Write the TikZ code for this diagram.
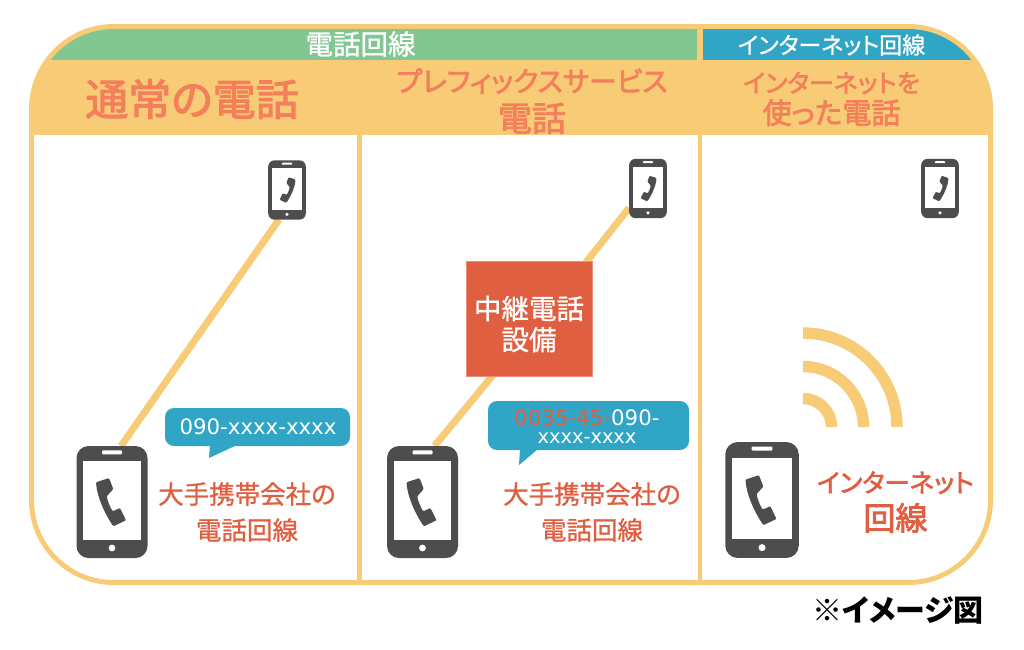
\documentclass[tikz,border=0pt]{standalone}
\usepackage{fontspec}
\setmainfont{Noto Sans CJK JP}[RawFeature=+palt]
\newfontfamily\medf{Noto Sans CJK JP}[RawFeature=+palt,FakeBold=2.5]
\newfontfamily\semif{Noto Sans CJK JP}[RawFeature=+palt,FakeBold=1]
\newfontfamily\latinf{DejaVu Sans}
\definecolor{frameY}{HTML}{F8CB76}
\definecolor{greenB}{HTML}{82C791}
\definecolor{blueB}{HTML}{31A5C5}
\definecolor{redT}{HTML}{E05F40}
\definecolor{titleT}{HTML}{F47F5B}
\definecolor{darkP}{HTML}{4D4D4D}
\newcommand{\fsz}[2]{\fontsize{#1}{#2}\selectfont}
% centre x, centre y, scale, handset mirror (1 or -1)
\newcommand{\phoneglyph}[4]{%
\begin{scope}[shift={(#1,#2)},scale=#3]
  \pgfmathsetmacro{\rr}{12*#3}
  \fill[darkP,rounded corners=\rr pt] (-35.5,-56) rectangle (35.5,56);
  \fill[white] (-28.7,-40.7) rectangle (28.7,37.7);
  \fill[white,rounded corners=1pt] (-10,-51.7) rectangle (10,-47.7);
  \fill[white] (0,46) circle (3.4);
  \begin{scope}[xscale=#4]
  \fill[darkP,rounded corners=1pt] (-16,-19.7) .. controls (-15,-5) and (-7,12) .. (1.3,24.3) -- (14,18.3) -- (8,6) -- (0.7,9.3) .. controls (-2,5) and (-4,0) .. (-5.3,-5.7) -- (1.3,-13) -- (-3,-24) -- cycle;
  \end{scope}
\end{scope}}
\tikzset{
  x=1pt,y=-1pt,
  phonebox/.style={inner sep=0pt,outer sep=0pt},
  link/.style={draw=frameY,line width=7pt},
  wave/.style={draw=frameY,line width=11.4pt},
  bub/.style={fill=blueB,rounded corners=9pt},
  whitehead/.style={text=white,inner sep=0pt},
  titletext/.style={text=titleT,inner sep=0pt,align=center},
  redtext/.style={text=redT,inner sep=0pt,align=center},
}
\begin{document}
\begin{tikzpicture}
\useasboundingbox (0,0) rectangle (1024,649);
\fill[white] (0,0) rectangle (1024,649);
% frame
\fill[frameY,rounded corners=85pt] (29,24) rectangle (993,585);
\begin{scope}
  \clip[rounded corners=80pt] (34,29) rectangle (988,580);
  \fill[white] (34,135) rectangle (988,580);
  \fill[frameY] (357,135) rectangle (362,580);
  \fill[frameY] (698,135) rectangle (702,580);
  \fill[greenB] (34,29) rectangle (697,60);
  \fill[blueB] (703,29) rectangle (988,60);
\end{scope}
% header labels
\node[whitehead,font=\semif\fsz{27.5}{27}] (hTel) at (360.5,44) {電話回線};
\node[whitehead,font=\semif\fsz{23}{23}] (hNet) at (831.5,45) {インターネット回線};
\node[titletext,font=\medf\fsz{43}{43}] (t1) at (192,99) {通常の電話};
\node[titletext,font=\medf] (t2) at (532,101) {\fsz{28}{36}プレフィックスサービス\\[8pt]\fsz{34}{36}電話};
\node[titletext,font=\medf] (t3) at (831.5,99) {\fsz{25}{33}インターネットを\\[4pt]\fsz{29}{33}使った電話};
% phones (anchors)
\node[phonebox,minimum width=71pt,minimum height=112pt] (big1) at (112,502) {};
\node[phonebox,minimum width=38pt,minimum height=59pt] (small1) at (287,190) {};
\node[phonebox,minimum width=71pt,minimum height=112pt] (big2) at (422.5,502) {};
\node[phonebox,minimum width=38pt,minimum height=59pt] (small2) at (648,188.5) {};
\node[phonebox,minimum width=74pt,minimum height=116pt] (big3) at (762,500) {};
\node[phonebox,minimum width=38pt,minimum height=59pt] (small3) at (940,188.5) {};
\node[inner sep=0pt,outer sep=0pt,minimum width=126pt,minimum height=115pt] (relay) at (529,318.5) {};
% connectors
\draw[link] ([xshift=9pt]big1.north) -- ([xshift=-8pt]small1.south);
\draw[link] ([xshift=12pt]big2.north) -- ([xshift=-5pt]relay.north east);
\draw[link] ([xshift=-5pt]relay.north east) -- ([yshift=10pt]small2.south west);
% phone glyphs
\phoneglyph{112}{502}{1}{1}
\phoneglyph{287}{190}{.53}{-1}
\phoneglyph{422.5}{502}{1}{1}
\phoneglyph{648}{188.5}{.53}{-1}
\phoneglyph{762}{500}{1.035}{1}
\phoneglyph{940}{188.5}{.53}{-1}
% relay box
\fill[redT] (relay.south west) rectangle (relay.north east);
\draw[redT!70!white,line width=.6pt] (relay.south west) rectangle (relay.north east);
\node[whitehead,align=center,font=\semif\fsz{27.5}{31}] (relayText) at (529,324) {中継電話\\設備};
% wifi
\draw[wave] (803,333) arc[start angle=-90,end angle=0,radius=94];
\draw[wave] (803,366.5) arc[start angle=-90,end angle=0,radius=60.5];
\draw[wave] (803,398.5) arc[start angle=-90,end angle=0,radius=28.5];
% bubbles
\fill[bub] (165,408) rectangle (350,446);
\fill[blueB] (210,445) -- (209,458) -- (237,445) -- cycle;
\node[whitehead,font=\latinf\fsz{21.3}{21}] (b1) at (258,427) {090-xxxx-xxxx};
\fill[bub] (488,401) rectangle (689,450);
\fill[blueB] (520,449) -- (519,465) -- (538,449) -- cycle;
\node[whitehead,align=center,font=\latinf] (b2) at (587,427) {\fsz{21.3}{20}{\color{redT}0035-45-}090-\\[6pt]\fsz{19.4}{20}xxxx-xxxx};
% red labels
\node[redtext,font=\semif\fsz{25.5}{36}] (l1) at (247,512) {大手携帯会社の\\電話回線};
\node[redtext,font=\semif\fsz{25.5}{36}] (l2) at (592,512) {大手携帯会社の\\電話回線};
\node[redtext,font=\medf] (l3) at (895.5,502) {\fsz{25.5}{35}インターネット\\[8pt]\fsz{32}{35}回線};
\node[inner sep=0pt,font=\bfseries\fsz{30}{30}] (note) at (898,610) {※イメージ図};
\end{tikzpicture}
\end{document}
